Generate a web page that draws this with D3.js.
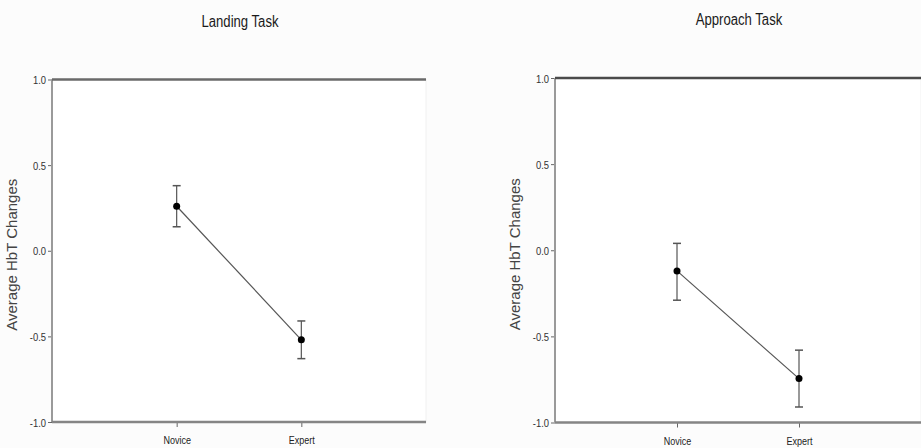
<!DOCTYPE html>
<html>
<head>
<meta charset="utf-8">
<script src="https://cdn.jsdelivr.net/npm/d3@7"></script>
<style>
  html, body { margin: 0; padding: 0; background: #fcfcfc; }
  svg { display: block; }
</style>
</head>
<body>
<svg id="chart" width="921" height="448"></svg>
<script>
const categories = ["Novice", "Expert"];
const panelTitles = ["Landing Task", "Approach Task"];
const landingMeans = [0.26, -0.52];
const landingUpper = [0.38, -0.41];
const landingLower = [0.14, -0.63];
const approachMeans = [-0.12, -0.745];
const approachUpper = [0.04, -0.58];
const approachLower = [-0.29, -0.91];
const yTicks = [-1.0, -0.5, 0.0, 0.5, 1.0];
const yLabel = "Average HbT Changes";

const FONT = "'Liberation Sans', Arial, sans-serif";
const SX = 0.82; // condensed look

const panels = [
  { title: panelTitles[0], means: landingMeans, upper: landingUpper, lower: landingLower,
    x0: 52, x1: 426, top: 79.5, bottom: 422, titleX: 240, titleY: 27, labelX: 17, topColor: "#6a6a6a" },
  { title: panelTitles[1], means: approachMeans, upper: approachUpper, lower: approachLower,
    x0: 555, x1: 921, top: 78, bottom: 422.5, titleX: 739, titleY: 25, labelX: 520, topColor: "#4a4a4a" }
];

const svg = d3.select("#chart");

function condensedText(parent, x, y, size, anchor, txt, fill) {
  return parent.append("g").attr("transform", `translate(${x},${y}) scale(${SX},1)`)
    .append("text").attr("text-anchor", anchor).attr("font-family", FONT)
    .attr("font-size", size).attr("fill", fill).text(txt);
}

panels.forEach(p => {
  const g = svg.append("g");
  const x = d3.scalePoint().domain(categories).range([p.x0, p.x1]).padding(1);
  const y = d3.scaleLinear().domain([-1, 1]).range([p.bottom, p.top]);

  // plot background
  g.append("rect").attr("x", p.x0).attr("y", p.top).attr("width", p.x1 - p.x0).attr("height", p.bottom - p.top)
    .attr("fill", "#ffffff").attr("stroke", "#f0f0f0").attr("stroke-width", 1);

  // title
  condensedText(g, p.titleX, p.titleY, 16, "middle", p.title, "#1a1a1a");

  // y label
  g.append("text").attr("transform", `translate(${p.labelX},${(p.top + p.bottom) / 2 + 4}) rotate(-90)`)
    .attr("text-anchor", "middle").attr("font-family", FONT)
    .attr("font-size", 15).attr("fill", "#444").text(yLabel);

  // y axis
  const yAxis = d3.axisLeft(y).tickValues(yTicks).tickSize(4).tickFormat(() => "");
  const ya = g.append("g").attr("transform", `translate(${p.x0},0)`).call(yAxis);
  ya.select(".domain").remove();
  ya.selectAll(".tick line").attr("stroke", "#666").attr("stroke-width", 1);
  ya.selectAll(".tick").each(function(d) {
    condensedText(d3.select(this), -6, 4, 11.5, "end", d3.format(".1f")(d).replace("−", "-"), "#333");
  });

  // x axis
  const xAxis = d3.axisBottom(x).tickSize(5).tickFormat(() => "");
  const xa = g.append("g").attr("transform", `translate(0,${p.bottom})`).call(xAxis);
  xa.select(".domain").remove();
  xa.selectAll(".tick line").attr("stroke", "#666").attr("stroke-width", 1);
  xa.selectAll(".tick").each(function(d) {
    condensedText(d3.select(this), 0, 22, 11, "middle", d, "#222");
  });

  // axis lines
  g.append("line").attr("x1", p.x0).attr("x2", p.x0).attr("y1", p.top).attr("y2", p.bottom)
    .attr("stroke", "#9a9a9a").attr("stroke-width", 2);
  g.append("line").attr("x1", p.x0).attr("x2", p.x1).attr("y1", p.bottom).attr("y2", p.bottom)
    .attr("stroke", "#858585").attr("stroke-width", 2.5);
  g.append("line").attr("x1", p.x0).attr("x2", p.x1).attr("y1", p.top).attr("y2", p.top)
    .attr("stroke", p.topColor).attr("stroke-width", 2.5);

  const data = categories.map((c, i) => ({ c, m: p.means[i], hi: p.upper[i], lo: p.lower[i] }));

  // connecting line
  g.append("path").datum(data)
    .attr("d", d3.line().x(d => x(d.c)).y(d => y(d.m)))
    .attr("fill", "none").attr("stroke", "#555").attr("stroke-width", 1.2);

  // error bars
  const eb = g.selectAll(".eb").data(data).enter().append("g");
  eb.append("line").attr("x1", d => x(d.c)).attr("x2", d => x(d.c))
    .attr("y1", d => y(d.hi)).attr("y2", d => y(d.lo)).attr("stroke", "#555").attr("stroke-width", 1.2);
  eb.append("line").attr("x1", d => x(d.c) - 4).attr("x2", d => x(d.c) + 4)
    .attr("y1", d => y(d.hi)).attr("y2", d => y(d.hi)).attr("stroke", "#555").attr("stroke-width", 1.5);
  eb.append("line").attr("x1", d => x(d.c) - 4).attr("x2", d => x(d.c) + 4)
    .attr("y1", d => y(d.lo)).attr("y2", d => y(d.lo)).attr("stroke", "#555").attr("stroke-width", 1.5);

  // points
  g.selectAll(".pt").data(data).enter().append("circle")
    .attr("cx", d => x(d.c)).attr("cy", d => y(d.m)).attr("r", 3.5).attr("fill", "#000");
});
</script>
</body>
</html>
